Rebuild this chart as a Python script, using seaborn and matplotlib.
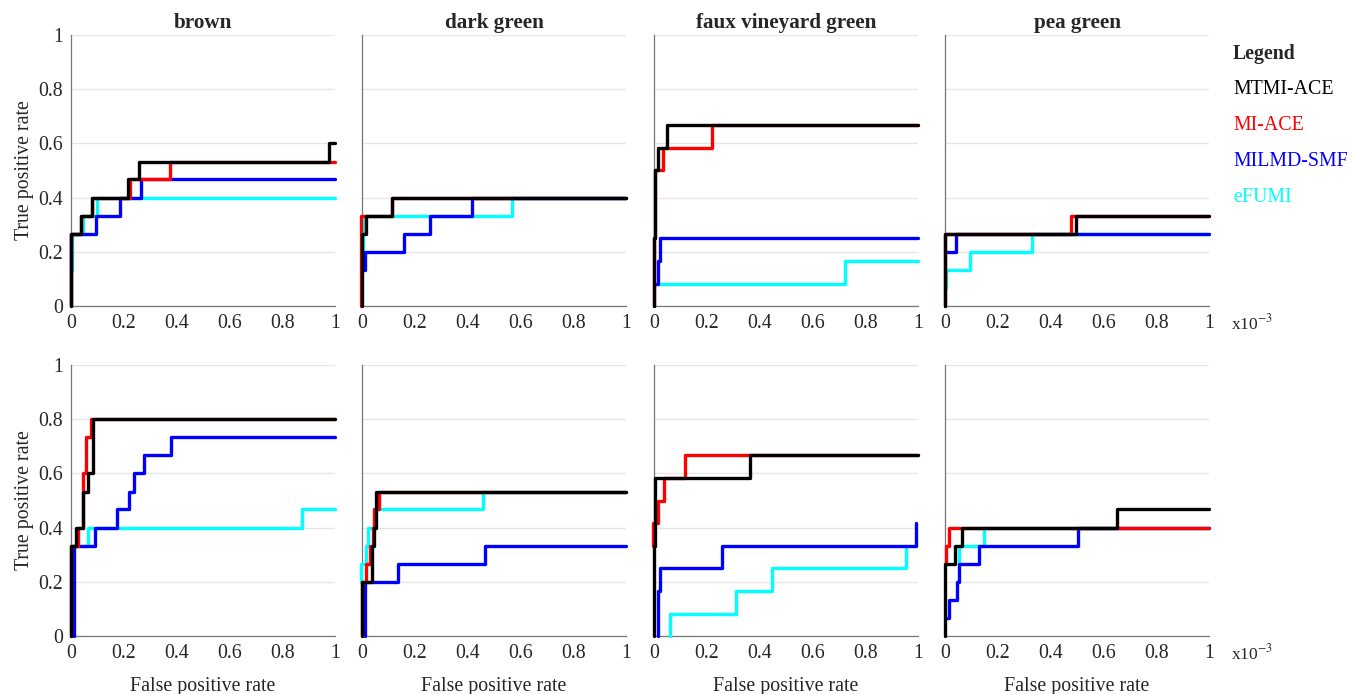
import numpy as np
import pandas as pd
import matplotlib
matplotlib.use("Agg")
import matplotlib.pyplot as plt
import seaborn as sns

# ---------------- data (FPR in units of 1e-3, TPR) ----------------
methods = ["eFUMI", "MILMD-SMF", "MI-ACE", "MTMI-ACE"]  # draw order
colors = {"MTMI-ACE": "#000000", "MI-ACE": "#FF0000", "MILMD-SMF": "#0000FF", "eFUMI": "#00FFFF"}
titles = ["brown", "dark green", "faux vineyard green", "pea green"]
legend_labels = ["MTMI-ACE", "MI-ACE", "MILMD-SMF", "eFUMI"]
xtick_vals = [0, 0.2, 0.4, 0.6, 0.8, 1]
ytick_vals = [0, 0.2, 0.4, 0.6, 0.8, 1]

brown_top = {
    "MTMI-ACE": ([0, 0, 0.037, 0.078, 0.215, 0.258, 0.976, 1], [0, 0.267, 0.333, 0.4, 0.467, 0.533, 0.6, 0.6]),
    "MI-ACE": ([0, 0, 0.037, 0.078, 0.223, 0.375, 1], [0, 0.267, 0.333, 0.4, 0.467, 0.533, 0.533]),
    "MILMD-SMF": ([0, 0, 0.095, 0.187, 0.266, 1], [0, 0.267, 0.333, 0.4, 0.467, 0.467]),
    "eFUMI": ([0.005, 0.005, 0.044, 0.1, 1], [0.133, 0.267, 0.333, 0.4, 0.4]),
}
darkgreen_top = {
    "MTMI-ACE": ([0, 0, 0.015, 0.115, 1], [0, 0.267, 0.333, 0.4, 0.4]),
    "MI-ACE": ([-0.004, -0.004, 0.115, 1], [0, 0.333, 0.4, 0.4]),
    "MILMD-SMF": ([0, 0.013, 0.16, 0.256, 0.417, 1], [0.133, 0.2, 0.267, 0.333, 0.4, 0.4]),
    "eFUMI": ([0.005, 0.005, 0.568, 1], [0.133, 0.333, 0.4, 0.4]),
}
faux_top = {
    "MTMI-ACE": ([0, 0, 0.004, 0.015, 0.05, 1], [0, 0.25, 0.5, 0.583, 0.667, 0.667]),
    "MI-ACE": ([0, 0, 0.004, 0.034, 0.218, 1], [0, 0.25, 0.5, 0.583, 0.667, 0.667]),
    "MILMD-SMF": ([0.004, 0.015, 0.024, 1], [0.083, 0.167, 0.25, 0.25]),
    "eFUMI": ([0.004, 0.725, 1], [0.083, 0.167, 0.167]),
}
pea_top = {
    "MTMI-ACE": ([0, 0, 0.497, 1], [0, 0.267, 0.333, 0.333]),
    "MI-ACE": ([0, 0, 0.477, 1], [0, 0.267, 0.333, 0.333]),
    "MILMD-SMF": ([0, 0.043, 1], [0.2, 0.267, 0.267]),
    "eFUMI": ([0.005, 0.005, 0.095, 0.328, 1], [0.067, 0.133, 0.2, 0.267, 0.267]),
}
brown_bottom = {
    "MTMI-ACE": ([0, 0, 0.018, 0.044, 0.063, 0.082, 1], [0, 0.333, 0.4, 0.533, 0.6, 0.8, 0.8]),
    "MI-ACE": ([0, 0, 0.028, 0.044, 0.056, 0.074, 1], [0, 0.333, 0.4, 0.6, 0.733, 0.8, 0.8]),
    "MILMD-SMF": ([0.01, 0.01, 0.092, 0.176, 0.221, 0.239, 0.275, 0.378, 1],
                  [0, 0.333, 0.4, 0.467, 0.533, 0.6, 0.667, 0.733, 0.733]),
    "eFUMI": ([0.005, 0.005, 0.063, 0.874, 1], [0, 0.333, 0.4, 0.467, 0.467]),
}
darkgreen_bottom = {
    "MTMI-ACE": ([0, 0, 0.037, 0.044, 0.053, 1], [0, 0.2, 0.333, 0.4, 0.533, 0.533]),
    "MI-ACE": ([0, 0, 0.015, 0.03, 0.04, 0.044, 0.066, 1], [0, 0.2, 0.267, 0.333, 0.4, 0.467, 0.533, 0.533]),
    "MILMD-SMF": ([0.01, 0.01, 0.135, 0.467, 1], [0, 0.2, 0.267, 0.333, 0.333]),
    "eFUMI": ([-0.003, -0.003, 0.015, 0.024, 0.044, 0.46, 1], [0.2, 0.267, 0.333, 0.4, 0.467, 0.533, 0.533]),
}
faux_bottom = {
    "MTMI-ACE": ([0, 0, 0.005, 0.365, 1], [0, 0.333, 0.583, 0.667, 0.667]),
    "MI-ACE": ([-0.004, -0.004, 0.015, 0.037, 0.116, 1], [0.333, 0.417, 0.5, 0.583, 0.667, 0.667]),
    "MILMD-SMF": ([0.015, 0.015, 0.024, 0.256, 0.991, 0.991], [0, 0.167, 0.25, 0.333, 0.417, 0.417]),
    "eFUMI": ([0.059, 0.059, 0.309, 0.447, 0.956, 0.956], [0, 0.083, 0.167, 0.25, 0.333, 0.333]),
}
pea_bottom = {
    "MTMI-ACE": ([0, 0, 0.037, 0.063, 0.653, 1], [0, 0.267, 0.333, 0.4, 0.467, 0.467]),
    "MI-ACE": ([0.005, 0.005, 0.015, 1], [0.267, 0.333, 0.4, 0.4]),
    "MILMD-SMF": ([0.005, 0.015, 0.044, 0.054, 0.129, 0.505, 1], [0.067, 0.133, 0.2, 0.267, 0.333, 0.4, 0.4]),
    "eFUMI": ([0.053, 0.053, 0.148, 1], [0.267, 0.333, 0.4, 0.4]),
}
panels = [[brown_top, darkgreen_top, faux_top, pea_top],
          [brown_bottom, darkgreen_bottom, faux_bottom, pea_bottom]]

# ---------------- style ----------------
sns.set_theme(style="white")
plt.rcParams["font.family"] = ["Liberation Serif", "DejaVu Serif"]
plt.rcParams["mathtext.fontset"] = "stix"
FS = 14.3
TFS = 15.2

W, H = 1352, 694
fig = plt.figure(figsize=(W / 100, H / 100), dpi=100)

col_left = [71, 362, 654, 945]
ax_w = 264
row_top = [35, 365]
ax_h = 271

for r in range(2):
    for c in range(4):
        ax = fig.add_axes([col_left[c] / W, 1 - (row_top[r] + ax_h) / H, ax_w / W, ax_h / H])
        data = panels[r][c]
        for m in methods:
            xs, ys = data[m]
            df = pd.DataFrame({"fpr": xs, "tpr": ys})
            sns.lineplot(data=df, x="fpr", y="tpr", ax=ax, estimator=None, sort=False,
                         drawstyle="steps-post", color=colors[m], lw=2.4, clip_on=False,
                         zorder=3 + methods.index(m))
        ax.set_xlim(0, 1)
        ax.set_ylim(0, 1)
        ax.set_xticks(xtick_vals)
        ax.set_xticklabels([f"{v:g}" for v in xtick_vals], fontsize=FS)
        ax.set_yticks(ytick_vals)
        if c == 0:
            ax.set_yticklabels([f"{v:g}" for v in ytick_vals], fontsize=FS)
            ax.set_ylabel("True positive rate", fontsize=FS, labelpad=3)
        else:
            ax.set_yticklabels([])
            ax.set_ylabel("")
        if r == 1:
            ax.set_xlabel("False positive rate", fontsize=FS, labelpad=10)
        else:
            ax.set_xlabel("")
            ax.set_title(titles[c], fontsize=TFS, fontweight="bold", pad=5)
        ax.grid(axis="y", color="#e6e6e6", lw=1.0)
        ax.set_axisbelow(True)
        for s in ["top", "right"]:
            ax.spines[s].set_visible(False)
        for s in ["left", "bottom"]:
            ax.spines[s].set_color("#777777")
            ax.spines[s].set_linewidth(0.9)
        ax.tick_params(axis="both", direction="in", length=3.5, width=0.8, color="#777777",
                       pad=6, labelcolor="#262626")
        ax.tick_params(axis="y", length=0)

    # x10^-3 exponent label
    fig.text(1231 / W, 1 - (row_top[r] + ax_h + 17) / H, r"x10$^{-3}$", fontsize=12.5,
             ha="left", va="center", color="#262626")

# legend as text
fig.text(1233 / W, 1 - 54 / H, "Legend", fontsize=FS, fontweight="bold", ha="left", va="center")
for i, lab in enumerate(legend_labels):
    fig.text(1233 / W, 1 - (90 + 35.7 * i) / H, lab, fontsize=FS, ha="left", va="center",
             color=colors[lab])

fig.savefig("out.png", dpi=100)
